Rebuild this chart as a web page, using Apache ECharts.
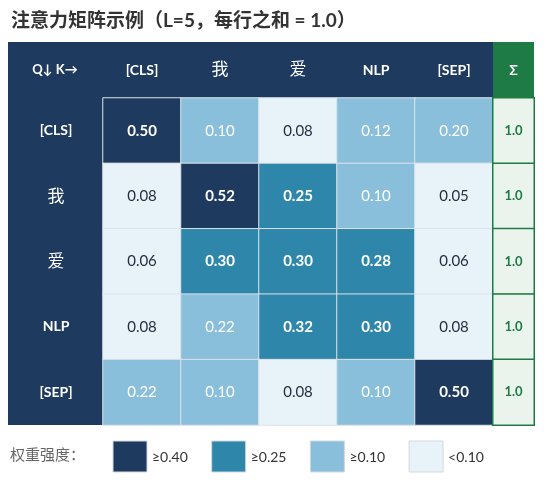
<!DOCTYPE html>
<html>
<head>
<meta charset="utf-8">
<script src="https://cdn.jsdelivr.net/npm/echarts@6/dist/echarts.min.js"></script>
<style>
  html, body { margin: 0; padding: 0; background: #fff; }
  #main { width: 559px; height: 487px; }
</style>
</head>
<body>
<div id="main"></div>
<script>
// 数据
var tokens = ['[CLS]', '我', '爱', 'NLP', '[SEP]'];
var weights = [
  [0.50, 0.10, 0.08, 0.12, 0.20],
  [0.08, 0.52, 0.25, 0.10, 0.05],
  [0.06, 0.30, 0.30, 0.28, 0.06],
  [0.08, 0.22, 0.32, 0.30, 0.08],
  [0.22, 0.10, 0.08, 0.10, 0.50]
];
var rowSums = [1.0, 1.0, 1.0, 1.0, 1.0];
var levelMins = [0.40, 0.25, 0.10, 0];
var levelLabels = ['≥0.40', '≥0.25', '≥0.10', '<0.10'];
var levelColors = ['#1f3a5f', '#2e86ab', '#89bfdb', '#e8f3f9'];

var NAVY = '#1f3a5f';
var GREEN = '#1e7b45';
var FONT = 'Lato, "Noto Sans", "Noto Sans CJK SC", sans-serif';

function level(v) {
  for (var k = 0; k < levelMins.length; k++) {
    if (v >= levelMins[k]) return k;
  }
  return levelMins.length - 1;
}

var cells = [];
weights.forEach(function (row, i) {
  row.forEach(function (v, j) {
    var k = level(v);
    cells.push({
      value: [j, i, v],
      itemStyle: { color: levelColors[k] },
      label: {
        color: k === 3 ? '#1f2d3d' : '#fff',
        fontWeight: k <= 1 ? 'bold' : 'normal'
      }
    });
  });
});
var sumCells = rowSums.map(function (s, i) { return [0, i, s]; });

function headLabel(v) {
  return /[\u4e00-\u9fa5]/.test(v) ? '{cn|' + v + '}' : '{en|' + v + '}';
}
var headRich = {
  cn: { color: '#fff', fontSize: 17, fontFamily: FONT, fontWeight: 'normal' },
  en: { color: '#fff', fontSize: 14, fontFamily: FONT, fontWeight: 'bold' }
};

var legendEls = [{
  type: 'text', left: 10, top: 448,
  style: { text: '权重强度：', fill: '#666', fontSize: 15, fontFamily: FONT }
}];
levelColors.forEach(function (c, k) {
  var x = 113 + k * 98.7;
  legendEls.push({
    type: 'rect', shape: { x: x, y: 441, width: 34, height: 31 },
    style: { fill: c, stroke: '#d3d8dd', lineWidth: 1 }
  });
  legendEls.push({
    type: 'text', x: x + 39, y: 457,
    style: { text: levelLabels[k], fill: '#333', fontSize: 14, fontFamily: FONT,
             textVerticalAlign: 'middle' }
  });
});

var myChart = echarts.init(document.getElementById('main'));
myChart.setOption({
  animation: false,
  textStyle: { fontFamily: FONT },
  title: {
    text: '注意力矩阵示例（L=5，每行之和 = 1.0）',
    left: 6, top: 6,
    textStyle: { fontSize: 19, fontWeight: 'bold', color: '#333', fontFamily: FONT }
  },
  graphic: [
    { type: 'rect', z: -1, shape: { x: 8, y: 42, width: 485, height: 56 }, style: { fill: NAVY } },
    { type: 'rect', z: -1, shape: { x: 8, y: 98, width: 95, height: 327 }, style: { fill: NAVY } },
    { type: 'rect', z: -1, shape: { x: 493, y: 42, width: 41, height: 56 }, style: { fill: GREEN } },
    { type: 'text', x: 55, y: 70,
      style: { text: 'Q↓ K→', fill: '#fff', fontSize: 13, fontWeight: 'bold', fontFamily: FONT,
               textAlign: 'center', textVerticalAlign: 'middle' } }
  ].concat(legendEls),
  grid: [
    { left: 103, top: 98, width: 390, height: 327 },
    { left: 493, top: 98, width: 41, height: 327 }
  ],
  xAxis: [
    {
      type: 'category', gridIndex: 0, data: tokens, position: 'top',
      axisLine: { show: false }, axisTick: { show: false }, splitLine: { show: false },
      axisLabel: { margin: 28, verticalAlign: 'middle', formatter: headLabel, rich: headRich }
    },
    {
      type: 'category', gridIndex: 1, data: ['Σ'], position: 'top',
      axisLine: { show: false }, axisTick: { show: false },
      axisLabel: { margin: 28, verticalAlign: 'middle', color: '#fff', fontSize: 14, fontWeight: 'bold' }
    }
  ],
  yAxis: [
    {
      type: 'category', gridIndex: 0, data: tokens, inverse: true,
      axisLine: { show: false }, axisTick: { show: false }, splitLine: { show: false },
      axisLabel: { margin: 47, align: 'center', formatter: headLabel, rich: headRich }
    },
    {
      type: 'category', gridIndex: 1, data: tokens, inverse: true, show: false
    }
  ],
  series: [
    {
      type: 'heatmap', xAxisIndex: 0, yAxisIndex: 0, data: cells,
      itemStyle: { borderColor: '#dde3e8', borderWidth: 1 },
      label: {
        show: true, fontSize: 15, fontFamily: FONT,
        formatter: function (p) { return p.value[2].toFixed(2); }
      }
    },
    {
      type: 'heatmap', xAxisIndex: 1, yAxisIndex: 1, data: sumCells,
      itemStyle: { color: '#eaf4ec', borderColor: GREEN, borderWidth: 1.5 },
      label: {
        show: true, fontSize: 13, fontWeight: 'bold', color: GREEN, fontFamily: FONT,
        formatter: function (p) { return p.value[2].toFixed(1); }
      }
    }
  ]
});
</script>
</body>
</html>
